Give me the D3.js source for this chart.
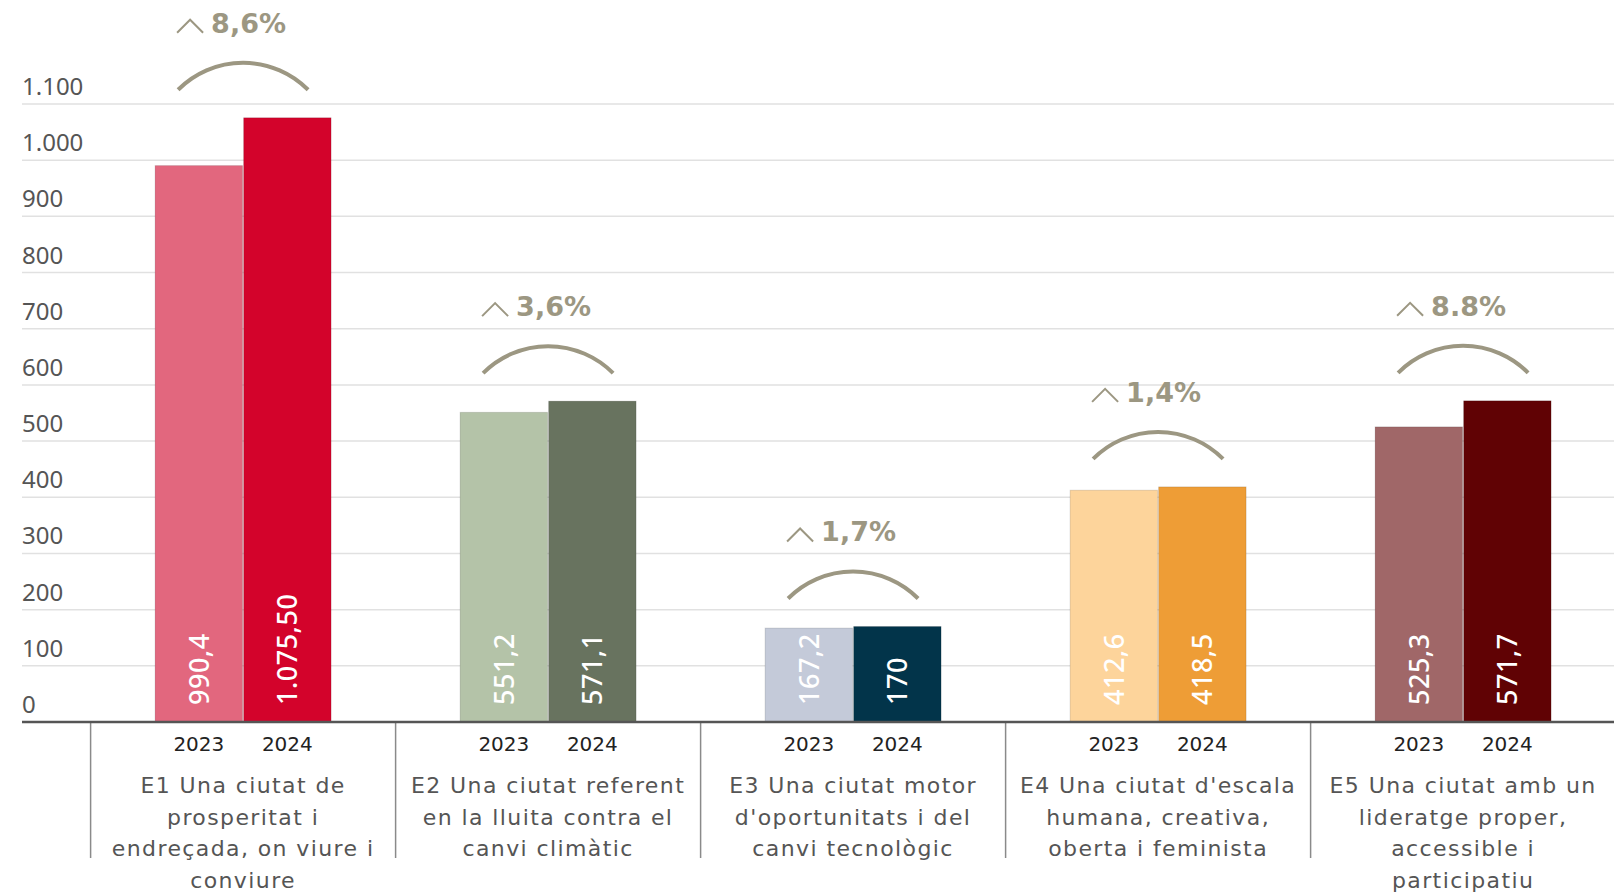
<!DOCTYPE html>
<html>
<head>
<meta charset="utf-8">
<script src="https://cdn.jsdelivr.net/npm/d3@7"></script>
<style>
  body { margin: 0; background: #fff; }
  svg { display: block; font-family: "Noto Sans", "Open Sans", sans-serif; }
</style>
</head>
<body>
<div id="chart"></div>
<script>
// データ
const categories = ["E1", "E2", "E3", "E4", "E5"];
const categoryLines = [
  ["E1 Una ciutat de", "prosperitat i", "endreçada, on viure i", "conviure"],
  ["E2 Una ciutat referent", "en la lluita contra el", "canvi climàtic"],
  ["E3 Una ciutat motor", "d'oportunitats i del", "canvi tecnològic"],
  ["E4 Una ciutat d'escala", "humana, creativa,", "oberta i feminista"],
  ["E5 Una ciutat amb un", "lideratge proper,", "accessible i", "participatiu"]
];
const years = ["2023", "2024"];
const values2023 = [990.4, 551.2, 167.2, 412.6, 525.3];
const values2024 = [1075.5, 571.1, 170, 418.5, 571.7];
const labels2023 = ["990,4", "551,2", "167,2", "412,6", "525,3"];
const labels2024 = ["1.075,50", "571,1", "170", "418,5", "571,7"];
const changes = ["8,6%", "3,6%", "1,7%", "1,4%", "8.8%"];
const yTicks = [0, 100, 200, 300, 400, 500, 600, 700, 800, 900, 1000, 1100];
const colors2023 = ["#e2677e", "#b4c3a8", "#c4cad9", "#fdd49b", "#a06768"];
const colors2024 = ["#d3032b", "#68735f", "#02344a", "#ee9d36", "#600204"];

// 表示設定
const W = 1614, H = 895;
const baseY = 722, topY = 104;
const left = 22;
const accent = "#9c9782";
const wide = "'DejaVu Sans', sans-serif";

const locale = d3.formatLocale({decimal: ",", thousands: ".", grouping: [3], currency: ["", "€"]});
const fmt = locale.format(",d");

const svg = d3.select("#chart").append("svg")
  .attr("width", W)
  .attr("height", H);

const y = d3.scaleLinear().domain([0, 1100]).range([baseY, topY]);

const x0 = d3.scaleBand()
  .domain(categories)
  .range([90.6, 90.6 + 305 * categories.length])
  .padding(0);

const half = 88;
const x1 = d3.scaleBand()
  .domain(years)
  .range([x0.bandwidth() / 2 - half, x0.bandwidth() / 2 + half])
  .paddingInner(0.012);

// グリッド線
svg.append("g").selectAll("line")
  .data(yTicks.filter(d => d > 0))
  .join("line")
  .attr("x1", left).attr("x2", W)
  .attr("y1", d => y(d)).attr("y2", d => y(d))
  .attr("stroke", "#e1e1e1")
  .attr("stroke-width", 1.5);

// 軸ラベル
svg.append("g").selectAll("text")
  .data(yTicks)
  .join("text")
  .attr("x", left)
  .attr("y", d => y(d) - 9)
  .attr("fill", "#555")
  .style("font-size", "24px")
  .text(d => fmt(d));

// データ整形
const rows = categories.map((c, i) => ({
  cat: c, i,
  bars: [
    {year: years[0], value: values2023[i], label: labels2023[i], color: colors2023[i]},
    {year: years[1], value: values2024[i], label: labels2024[i], color: colors2024[i]}
  ]
}));

const groups = svg.append("g").selectAll("g")
  .data(rows)
  .join("g")
  .attr("transform", d => `translate(${x0(d.cat)},0)`);

// 棒
groups.selectAll("rect")
  .data(d => d.bars)
  .join("rect")
  .attr("x", d => x1(d.year))
  .attr("y", d => y(d.value))
  .attr("width", x1.bandwidth())
  .attr("height", d => baseY - y(d.value))
  .attr("fill", d => d.color)
  .attr("stroke", "rgba(0,0,0,0.12)")
  .attr("stroke-width", 1);

// 値ラベル（縦書き）
groups.selectAll("text.val")
  .data(d => d.bars)
  .join("text")
  .attr("class", "val")
  .attr("transform", d => `translate(${x1(d.year) + x1.bandwidth() / 2 + 10},${baseY - 17}) rotate(-90)`)
  .attr("fill", "#fff")
  .style("font-size", "27px")
  .style("font-weight", 500)
  .style("letter-spacing", "0.5px")
  .text(d => d.label);

// 年ラベル
groups.selectAll("text.year")
  .data(d => d.bars)
  .join("text")
  .attr("class", "year")
  .attr("x", d => x1(d.year) + x1.bandwidth() / 2)
  .attr("y", 751)
  .attr("text-anchor", "middle")
  .attr("fill", "#222")
  .style("font-family", wide)
  .style("font-size", "20px")
  .text(d => d.year);

// カテゴリーラベル
groups.append("text")
  .attr("text-anchor", "middle")
  .attr("fill", "#555")
  .style("font-family", wide)
  .style("font-size", "22px")
  .style("letter-spacing", "1.4px")
  .selectAll("tspan")
  .data(d => categoryLines[d.i])
  .join("tspan")
  .attr("x", x0.bandwidth() / 2)
  .attr("y", (d, j) => 793 + j * 31.5)
  .text(d => d);

// 増加率の弧と注釈
const arcW = 130, arcH = 27;
const arcR = (Math.pow(arcW / 2, 2) + arcH * arcH) / (2 * arcH);
rows.forEach(r => {
  const cx = x0(r.cat) + x0.bandwidth() / 2;
  const yEnd = y(d3.max(r.bars, b => b.value)) - 28;
  const g = svg.append("g");
  g.append("path")
    .attr("d", `M${cx - arcW / 2},${yEnd} A${arcR},${arcR} 0 0 1 ${cx + arcW / 2},${yEnd}`)
    .attr("fill", "none")
    .attr("stroke", accent)
    .attr("stroke-width", 4);
  const tb = yEnd - arcH - 30;
  g.append("path")
    .attr("d", `M${cx - 66},${tb} L${cx - 53},${tb - 13} L${cx - 40},${tb}`)
    .attr("fill", "none")
    .attr("stroke", accent)
    .attr("stroke-width", 2);
  g.append("text")
    .attr("x", cx - 32)
    .attr("y", tb)
    .attr("fill", accent)
    .style("font-family", wide)
    .style("font-size", "27px")
    .style("font-weight", 700)
    .text(changes[r.i]);
});

// 区切り線
svg.append("g").selectAll("line")
  .data(categories)
  .join("line")
  .attr("x1", d => x0(d)).attr("x2", d => x0(d))
  .attr("y1", baseY).attr("y2", 858)
  .attr("stroke", "#8a8a8a")
  .attr("stroke-width", 1.5);

// ベースライン
svg.append("line")
  .attr("x1", left).attr("x2", W)
  .attr("y1", baseY).attr("y2", baseY)
  .attr("stroke", "#555")
  .attr("stroke-width", 2.5);
</script>
</body>
</html>
